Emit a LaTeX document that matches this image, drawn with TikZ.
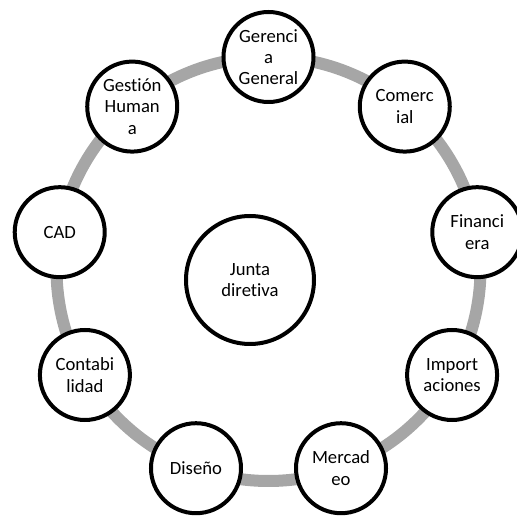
\documentclass[tikz,border=0pt]{standalone}
\usepackage{fontspec}
\setmainfont[Ligatures=NoCommon]{Carlito}
\definecolor{ringgray}{RGB}{166,166,166}

\begin{document}
\begin{tikzpicture}[x=0.75pt,y=0.75pt,
    area/.style={circle,draw,line width=3pt,fill=white,minimum size=67.5pt,
      inner sep=0pt,align=center,font=\fontsize{14}{16}\selectfont},
    junta/.style={area,minimum size=96pt}]
  \useasboundingbox (-268.5,-247) rectangle (248.5,269);
  \clip (-268.5,-247) rectangle (248.5,269);
  \coordinate (c) at (0,0);
  \draw[ringgray,line width=9pt] (c) circle [radius=159pt];
  \draw
    (90:212) node[area] (ger){Gerenci\\a\\General}
    (50:212) node[area] (com){Comerc\\ial}
    (10:212) node[area] (fin){Financi\\era}
    (-30:212) node[area] (imp){Import\\aciones}
    (-70:212) node[area] (mer){Mercad\\eo}
    (-110:212) node[area] (dis){Diseño}
    (-150:212) node[area] (con){Contabi\\lidad}
    (170:212) node[area] (cad){CAD}
    (130:212) node[area] (ges){Gestión\\Human\\a};
  \node[junta] (jun) at (-18.5,-11) {Junta\\diretiva};
\end{tikzpicture}
\end{document}
